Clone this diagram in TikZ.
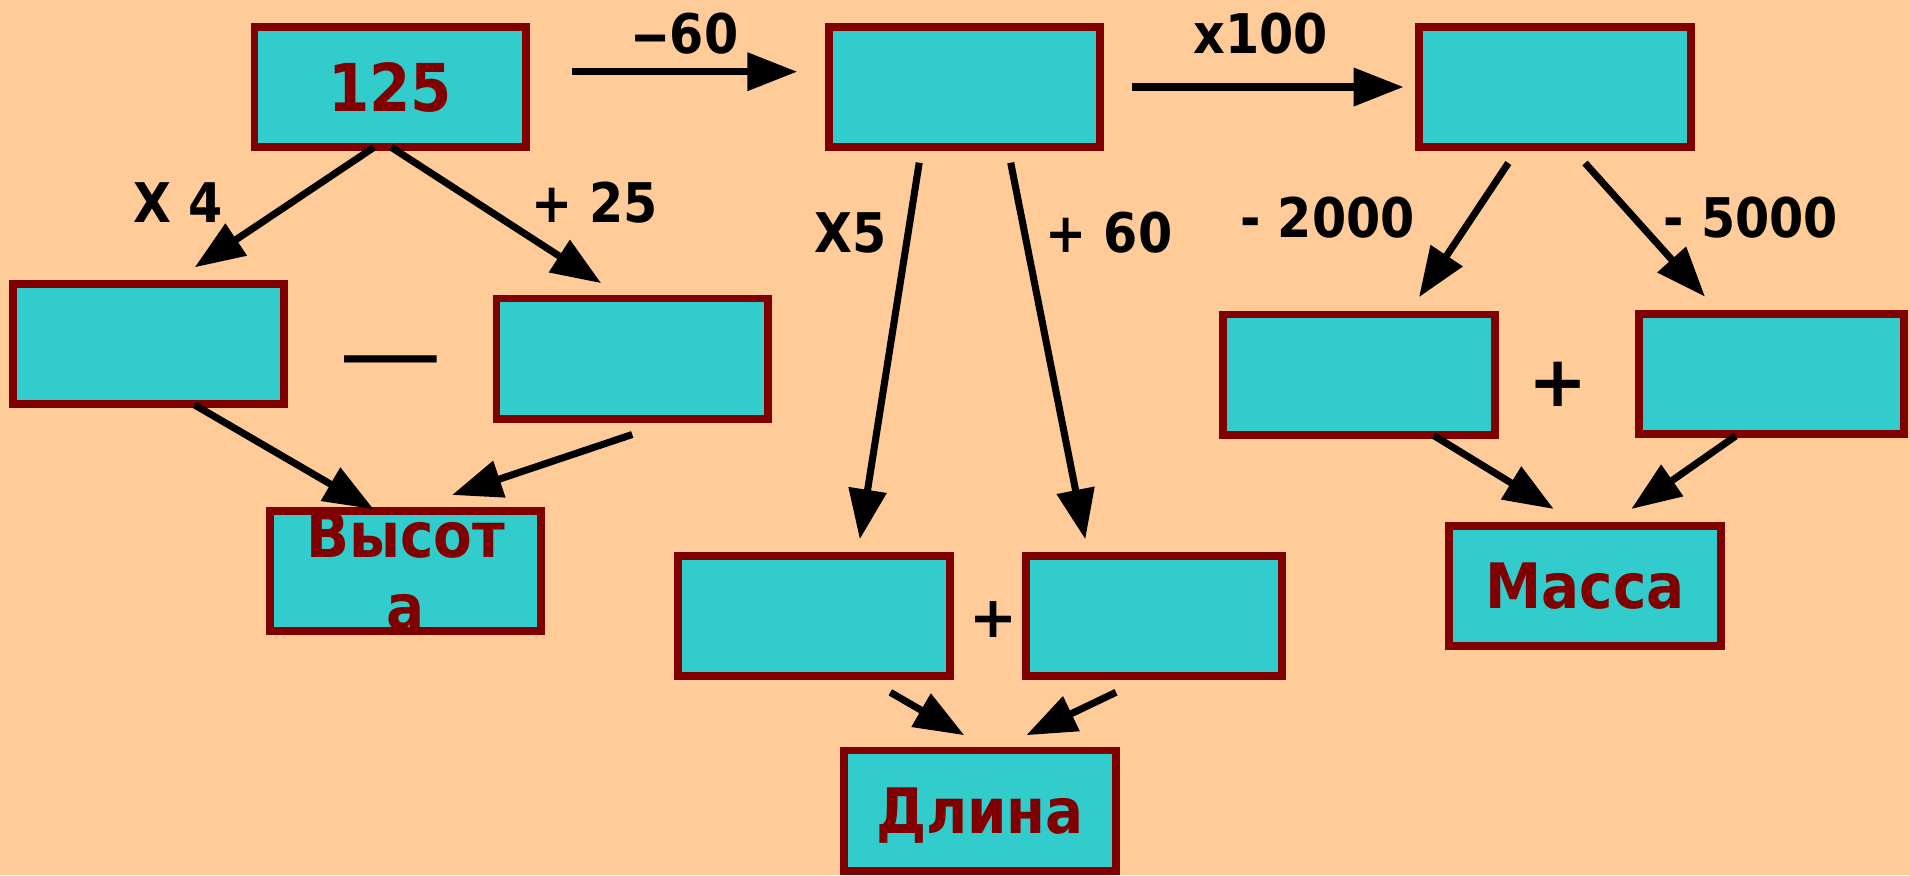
\documentclass[tikz,border=0pt]{standalone}
\usepackage{fontspec}
\usepackage{graphicx}
\usepackage{tikz}
\usetikzlibrary{calc,arrows.meta,positioning}
\newfontfamily\namefont{DejaVuSansCondensed-Bold.ttf}
\newfontfamily\signfont{DejaVuSans.ttf}
\newfontfamily\plusfont{DejaVuSans-Bold.ttf}
\definecolor{bgorange}{HTML}{FFCC99}
\definecolor{boxcyan}{HTML}{33CCCC}
\definecolor{boxred}{HTML}{800000}
\tikzstyle{box} = [rectangle,draw=boxred,fill=boxcyan,line width=5.9pt,minimum width=203.7pt,minimum height=90.1pt,inner sep=0pt,text=boxred,align=center,font=\namefont\fontsize{47}{54}\selectfont]
\tikzstyle{op} = [inner sep=0pt,font=\namefont\fontsize{41}{41}\selectfont]
\tikzstyle{arrow} = [line width=5.3pt,-{Triangle[length=37.5pt,width=27.75pt]}]

\begin{document}
\begin{tikzpicture}[x=0.75pt,y=-0.75pt]
  \fill[bgorange] (0,0) rectangle (1910,875);
  \useasboundingbox (0,0) rectangle (1910,875);
  % boxes
  \node[box,font=\namefont\fontsize{49.5}{50}\selectfont] (b125) at (390.25,87) {125};
  \node[box] (b2) at (964.5,87) {};
  \node[box] (b3) at (1554.75,87) {};
  \node[box] (bL1) at (148.5,344) {};
  \node[box] (bL2) at (632.25,358.5) {};
  \node[box] (bH) at (405.5,571) {Высот\\а};
  \node[box] (bM1) at (814,616) {};
  \node[box,minimum width=192.5pt] (bM2) at (1154,616) {};
  \node[box,text depth=0pt] (bD) at (980,810.5) {Длина};
  \node[box] (bR1) at (1359,374.5) {};
  \node[box,minimum width=198.7pt] (bR2) at (1771.5,374) {};
  \node[box] (bMa) at (1585,585.7) {Масса};
  % operations
  \node[op] (opMinus60) at (685,34) {\scalebox{1.55}[1]{–}60};
  \node[op] (opTimes100) at (1260.7,33.7) {x100};
  \node[op] (opTimes4) at (178,202.5) {X 4};
  \node[op] (opPlus25) at (594.5,203) {+ 25};
  \node[op] (opTimes5) at (851,233) {X5};
  \node[op] (opPlus60) at (1109,233) {+ 60};
  \node[op] (opMinus2000) at (1327.6,218) {- 2000};
  \node[op] (opMinus5000) at (1751,218) {- 5000};
  \node[inner sep=0pt,anchor=base,font=\signfont\fontsize{77}{77}\selectfont] (signMinus) at (390.5,387.5) {—};
  \node[inner sep=0pt,font=\plusfont\fontsize{43}{43}\selectfont] (signPlusM) at (994,620) {+};
  \node[inner sep=0pt,font=\plusfont\fontsize{53}{53}\selectfont] (signPlusR) at (1558,384.3) {+};
  % arrows
  \path[arrow]
    ($(b125.east)+(41.7,-15.3)$) edge ($(b2.west)+(-27.5,-15.3)$)
    ($(b2.east)+(27.6,0)$) edge ($(b3.west)+(-11.4,0)$)
    ($(b125.south)+(-16.25,-3.7)$) edge ($(bL1.north)+(46.2,-12.7)$)
    ($(b125.south)+(1,-3.7)$) edge ($(bL2.north)+(-31,-11.3)$)
    ($(bL1.south)+(46.2,-3)$) edge ($(bH.north)+(-31.8,2.3)$)
    ($(bL2.south)+(0,12)$) edge ($(bH.north)+(46.5,-12)$)
    ($(b2.south)+(-45.3,11.7)$) edge ($(bM1.north)+(45.8,-12.7)$)
    ($(b2.south)+(46.2,11.7)$) edge ($(bM2.north)+(-68.7,-12.7)$)
    ($(bM1.south)+(76.3,12.3)$) edge ($(bD.north)+(-15.7,-11.3)$)
    ($(bM2.south)+(-38,12.3)$) edge ($(bD.north)+(46.3,-11.3)$)
    ($(b3.south)+(-46.4,12)$) edge ($(bR1.north)+(60,-13.3)$)
    ($(b3.south)+(30.25,12)$) edge ($(bR2.north)+(-66.5,-13.3)$)
    ($(bR1.south)+(74.7,-3)$) edge ($(bMa.north)+(-31.3,-12.7)$)
    ($(bR2.south)+(-35.8,-2)$) edge ($(bMa.north)+(46.3,-12.7)$);
\end{tikzpicture}
\end{document}
